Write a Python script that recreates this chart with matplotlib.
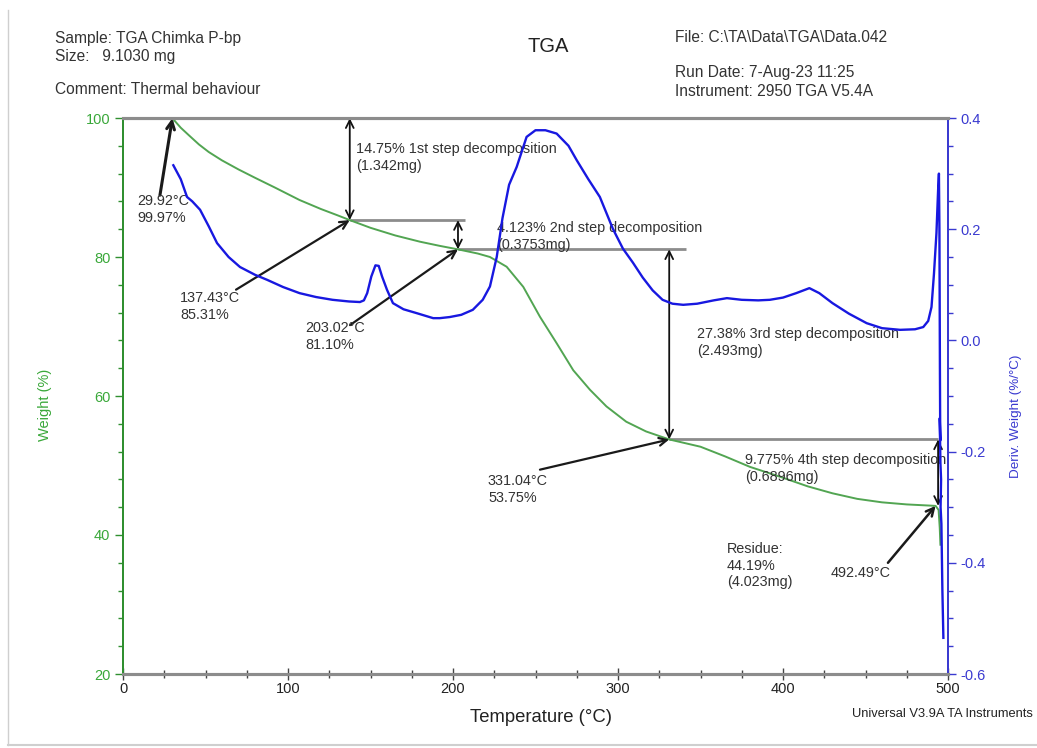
import matplotlib
matplotlib.use("Agg")
import matplotlib.pyplot as plt
from matplotlib.ticker import MultipleLocator, FormatStrFormatter
from matplotlib.lines import Line2D

plt.rcParams['font.family'] = ['Liberation Sans', 'DejaVu Sans']
plt.rcParams['axes.unicode_minus'] = False

# ---------------- data ----------------
temp_w = [29.92, 35, 40, 46, 52, 60, 70, 80, 92, 107, 120, 130, 137.43, 150, 165, 180,
          192, 203.02, 215, 222.4, 232.5, 242.6, 252.7, 262.8, 272.9, 283, 293, 305,
          317, 331.04, 350, 365, 380, 398, 415, 430, 445, 460, 475, 492.49, 494.3,
          495.0, 495.4]
weight = [99.97, 98.6, 97.5, 96.2, 95.1, 93.9, 92.6, 91.4, 90.0, 88.2, 86.9, 86.0, 85.31,
          84.2, 83.1, 82.2, 81.6, 81.10, 80.5, 80.0, 78.6, 75.7, 71.4, 67.6, 63.7, 60.9,
          58.5, 56.3, 54.9, 53.75, 52.7, 51.3, 49.8, 48.4, 47.0, 46.0, 45.2, 44.7, 44.4,
          44.19, 43.6, 41.0, 38.6]

temp_d = [30.5, 35, 38.8, 42, 46.7, 52, 57, 64, 70.9, 80, 87.3, 97, 107, 117, 127, 137,
          143.6, 146, 148, 150.5, 153, 155, 157, 160, 163.6, 170, 178, 188, 192, 198, 205,
          212, 218, 222.4, 226.5, 230, 234, 238.6, 244.6, 250, 256, 262.8, 270, 275, 282,
          289, 297, 303, 309, 315, 321, 327, 333, 339.5, 348, 358, 366, 375, 385, 392,
          400, 408, 416, 422, 430, 440, 450.7, 460, 471, 480, 485, 488, 490, 491.5, 493,
          494, 494.5, 494.8, 495.1, 495.3, 495.0, 495.4, 495.8, 495.5, 496.0, 496.6, 497.2]
deriv = [0.315, 0.29, 0.258, 0.25, 0.235, 0.205, 0.175, 0.150, 0.132, 0.118, 0.109, 0.096,
         0.085, 0.078, 0.073, 0.070, 0.069, 0.072, 0.085, 0.115, 0.135, 0.134, 0.115,
         0.091, 0.067, 0.056, 0.049, 0.040, 0.040, 0.042, 0.046, 0.055, 0.073, 0.097,
         0.150, 0.22, 0.28, 0.312, 0.366, 0.378, 0.378, 0.372, 0.350, 0.324, 0.29, 0.258,
         0.20, 0.165, 0.14, 0.113, 0.090, 0.073, 0.066, 0.064, 0.066, 0.072, 0.076, 0.073,
         0.072, 0.073, 0.077, 0.085, 0.094, 0.085, 0.067, 0.048, 0.031, 0.022, 0.019,
         0.020, 0.024, 0.035, 0.06, 0.12, 0.193, 0.27, 0.30, 0.20, -0.05, -0.18, -0.14,
         -0.22, -0.25, -0.30, -0.33, -0.45, -0.535]

# annotated points (temperature, weight)
pt_temps = [29.92, 137.43, 203.02, 331.04, 492.49]
pt_weights = [99.97, 85.31, 81.10, 53.75, 44.19]
pt_labels = ["29.92°C\n99.97%", "137.43°C\n85.31%", "203.02°C\n81.10%",
             "331.04°C\n53.75%", "492.49°C"]
step_labels = ["14.75% 1st step decomposition\n(1.342mg)",
               "4.123% 2nd step decomposition\n(0.3753mg)",
               "27.38% 3rd step decomposition\n(2.493mg)",
               "9.775% 4th step decomposition\n(0.6896mg)"]
residue_label = "Residue:\n44.19%\n(4.023mg)"

# ---------------- figure ----------------
W, H = 1037, 748
fig = plt.figure(figsize=(W / 100, H / 100), dpi=100)
ax = fig.add_axes([123 / W, 1 - 674 / H, (948 - 123) / W, (674 - 118) / H])
ax2 = ax.twinx()

GREEN = '#52a552'
GREEN_AX = '#2f8f2f'
BLUE = '#1818e0'
BLUE_AX = '#3a3ad0'
GRAY = '#8c8c8c'
TXT = '#333333'

ax.plot(temp_w, weight, color=GREEN, lw=1.4, zorder=3)
ax2.plot(temp_d, deriv, color=BLUE, lw=1.7, zorder=3)

ax.set_xlim(0, 500)
ax.set_ylim(20, 100)
ax2.set_ylim(-0.6, 0.4)

ax.xaxis.set_major_locator(MultipleLocator(100))
ax.xaxis.set_minor_locator(MultipleLocator(25))
ax.yaxis.set_major_locator(MultipleLocator(20))
ax.yaxis.set_minor_locator(MultipleLocator(4))
ax2.yaxis.set_major_locator(MultipleLocator(0.2))
ax2.yaxis.set_minor_locator(MultipleLocator(0.05))
ax2.yaxis.set_major_formatter(FormatStrFormatter('%.1f'))

ax.tick_params(axis='x', which='major', direction='inout', length=8, width=1,
               color='#444444', labelsize=10.5, labelcolor='#222222', pad=2)
ax.tick_params(axis='x', which='minor', direction='inout', length=6, width=1, color='#444444')
ax.tick_params(axis='y', which='major', direction='out', length=6, width=1,
               color=GREEN_AX, labelsize=10.5, labelcolor='#3aa83a', pad=3)
ax.tick_params(axis='y', which='minor', direction='out', length=3.5, width=1, color=GREEN_AX)
ax2.tick_params(axis='y', which='major', direction='out', length=6, width=1,
                color=BLUE_AX, labelsize=10.5, labelcolor=BLUE_AX, pad=3)
ax2.tick_params(axis='y', which='minor', direction='out', length=3.5, width=1, color=BLUE_AX)

for a in (ax, ax2):
    a.spines['left'].set_color(GREEN_AX)
    a.spines['left'].set_linewidth(1.3)
    a.spines['right'].set_color(BLUE_AX)
    a.spines['right'].set_linewidth(1.3)
    a.spines['bottom'].set_color(GRAY)
    a.spines['bottom'].set_linewidth(2.2)
    a.spines['top'].set_color(GRAY)
    a.spines['top'].set_linewidth(2.2)

# horizontal reference lines
ax.hlines(pt_weights[0], 0, 500, color=GRAY, lw=2.2, zorder=2)
ax.hlines(pt_weights[1], pt_temps[1], 207, color=GRAY, lw=2, zorder=2)
ax.hlines(pt_weights[2], pt_temps[2], 341, color=GRAY, lw=2, zorder=2)
ax.hlines(pt_weights[3], pt_temps[3], 494, color=GRAY, lw=2, zorder=2)

# vertical double arrows for steps
step_x = [pt_temps[1], pt_temps[2], pt_temps[3], 494.0]
for i in range(4):
    ax.annotate('', xy=(step_x[i], pt_weights[i]), xytext=(step_x[i], pt_weights[i + 1]),
                arrowprops=dict(arrowstyle='<->', color='#111111', lw=1.3,
                                shrinkA=0, shrinkB=0, mutation_scale=14), zorder=4)

# point-label arrows
tails = [(22.4, 88.9), (68.5, 75.3), (137.6, 70.2), (252.7, 49.4), (463.6, 36.0)]
lws = [2.2, 1.6, 1.6, 1.6, 1.8]
for i in range(5):
    ax.annotate('', xy=(pt_temps[i], pt_weights[i]), xytext=tails[i],
                arrowprops=dict(arrowstyle='->', color='#1a1a1a', lw=lws[i],
                                shrinkA=0, shrinkB=0, mutation_scale=14), zorder=4)

FS = 10.4
LS = 1.25
label_pos = [(8.5, 89.1), (34.5, 75.1), (110.3, 70.8), (221.2, 48.8), (429.0, 35.5)]
for i in range(5):
    ax.text(label_pos[i][0], label_pos[i][1], pt_labels[i], fontsize=FS, color=TXT,
            va='top', ha='left', linespacing=LS, zorder=5)

step_pos = [(141.2, 96.55), (226.7, 85.2), (347.9, 69.9), (377.0, 51.8)]
for i in range(4):
    ax.text(step_pos[i][0], step_pos[i][1], step_labels[i], fontsize=FS, color=TXT,
            va='top', ha='left', linespacing=LS, zorder=5)
ax.text(366.0, 39.0, residue_label, fontsize=FS, color=TXT, va='top', ha='left',
        linespacing=LS, zorder=5)

# header texts
HFS = 11.2
fig.text(55 / W, 1 - 38 / H, "Sample: TGA Chimka P-bp", fontsize=HFS, color=TXT, va='center')
fig.text(55 / W, 1 - 57 / H, "Size:   9.1030 mg", fontsize=HFS, color=TXT, va='center')
fig.text(55 / W, 1 - 90 / H, "Comment: Thermal behaviour", fontsize=HFS, color=TXT, va='center')
fig.text(548 / W, 1 - 47 / H, "TGA", fontsize=14.5, color='#222222', va='center', ha='center')
fig.text(675 / W, 1 - 38 / H, "File: C:\\TA\\Data\\TGA\\Data.042", fontsize=HFS, color=TXT, va='center')
fig.text(675 / W, 1 - 73 / H, "Run Date: 7-Aug-23 11:25", fontsize=HFS, color=TXT, va='center')
fig.text(675 / W, 1 - 92 / H, "Instrument: 2950 TGA V5.4A", fontsize=HFS, color=TXT, va='center')

fig.text(541 / W, 1 - 718 / H, "Temperature (°C)", fontsize=13.3, color='#222222',
         va='center', ha='center')
fig.text(45 / W, 1 - 405 / H, "Weight (%)", fontsize=10.5, color='#3aa83a',
         va='center', ha='center', rotation=90)
fig.text(1016 / W, 1 - 416 / H, "Deriv. Weight (%/°C)", fontsize=9.7, color=BLUE_AX,
         va='center', ha='center', rotation=90)
fig.text(852 / W, 1 - 714 / H, "Universal V3.9A TA Instruments", fontsize=9.3,
         color='#222222', va='center', ha='left')

# faint page border
fig.add_artist(Line2D([8 / W, 8 / W], [1 - 10 / H, 1 - 745 / H], color='#cfcfcf', lw=1))
fig.add_artist(Line2D([8 / W, 1.0], [1 - 745 / H, 1 - 745 / H], color='#cfcfcf', lw=1.5))

fig.savefig("out.png", dpi=100)
